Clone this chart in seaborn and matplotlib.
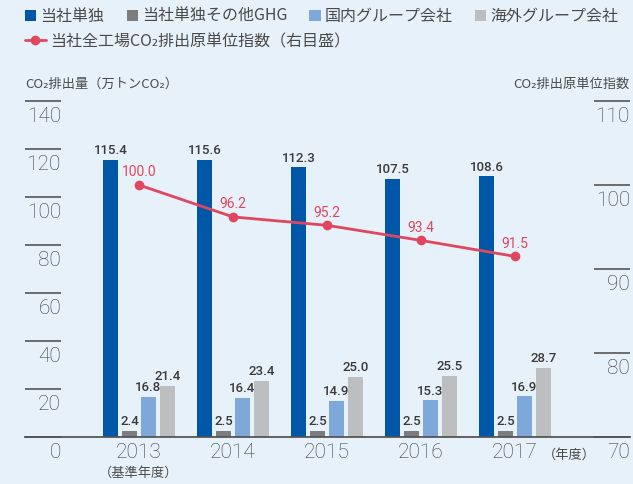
import matplotlib as mpl
mpl.use('Agg')
import matplotlib.pyplot as plt
import pandas as pd
import seaborn as sns

# data
years = ['2013', '2014', '2015', '2016', '2017']
series_names = ['当社単独', '当社単独その他GHG', '国内グループ会社', '海外グループ会社']
tantai = [115.4, 115.6, 112.3, 107.5, 108.6]
tantai_other_ghg = [2.4, 2.5, 2.5, 2.5, 2.5]
domestic_group = [16.8, 16.4, 14.9, 15.3, 16.9]
overseas_group = [21.4, 23.4, 25.0, 25.5, 28.7]
index_values = [100.0, 96.2, 95.2, 93.4, 91.5]
line_name = '当社全工場CO₂排出原単位指数（右目盛）'
left_ticks = [0, 20, 40, 60, 80, 100, 120, 140]
right_ticks = [70, 80, 90, 100, 110]

bar_colors = ['#0057A7', '#7B7C7E', '#7EA8DA', '#BDBEC0']
line_color = '#E0475F'
bg = '#E7F1FA'
txt = '#4a4a4a'
num_color = '#3c3c3c'
num_font = dict(family=['Roboto', 'DejaVu Sans'], weight='light')
val_font = dict(family=['Roboto', 'DejaVu Sans'], weight='medium')


def main():
    sns.set_theme(style='white')
    plt.rcParams['font.family'] = ['Noto Sans CJK JP', 'DejaVu Sans']

    df = pd.DataFrame({
        'year': years * 4,
        'series': [s for s in series_names for _ in years],
        'value': tantai + tantai_other_ghg + domestic_group + overseas_group,
    })

    fig = plt.figure(figsize=(6.33, 4.84), dpi=100, facecolor=bg)
    ax = fig.add_axes([25 / 633, 47 / 484, 605 / 633, 336 / 484], facecolor=bg)

    sns.barplot(data=df, x='year', y='value', hue='series', hue_order=series_names,
                palette=bar_colors, saturation=1, width=0.808, gap=0.208,
                linewidth=0, errorbar=None, ax=ax)
    bar_handles, bar_labels = ax.get_legend_handles_labels()
    ax.get_legend().remove()

    for cont in ax.containers:
        ax.bar_label(cont, fmt='%.1f', padding=2, fontsize=9.5, color='#3a3a3a', **val_font)

    ax2 = ax.twinx()
    sns.lineplot(x=list(range(len(years))), y=index_values, color=line_color, lw=2,
                 marker='o', markersize=7, markeredgewidth=0, label=line_name, ax=ax2)
    line_handles, line_labels = ax2.get_legend_handles_labels()
    ax2.get_legend().remove()
    for i, v in enumerate(index_values):
        ax2.annotate('%.1f' % v, xy=(i, v), xytext=(0, 9), textcoords='offset points',
                     ha='center', va='center', fontsize=10, color=line_color,
                     family=['Roboto', 'DejaVu Sans'])

    ax.set_ylim(0, 140)
    ax2.set_ylim(70, 110)
    ax.set_xlim(-1.213, 5.223)

    for a in (ax, ax2):
        for s in a.spines.values():
            s.set_visible(False)
    ax.spines['bottom'].set_visible(True)
    ax.spines['bottom'].set_color('#555555')
    ax.spines['bottom'].set_linewidth(1.3)

    ax.set_yticks(left_ticks)
    ax2.set_yticks(right_ticks)
    ax.tick_params(axis='y', direction='in', length=26, width=1.2, color='#555555', labelleft=False)
    ax2.tick_params(axis='y', direction='in', length=26, width=1.2, color='#555555', labelright=False)
    ax.set_xlabel('')
    ax.set_ylabel('')
    ax2.set_ylabel('')

    for t in left_ticks:
        ax.annotate(str(t), xy=(36 / 605, t), xycoords=('axes fraction', 'data'),
                    xytext=(0, -11), textcoords='offset points', ha='right', va='center',
                    fontsize=15, color=num_color, **num_font)
    for t in right_ticks:
        ax2.annotate(str(t), xy=(1.0, t), xycoords=('axes fraction', 'data'),
                     xytext=(0, -11), textcoords='offset points', ha='right', va='center',
                     fontsize=15, color=num_color, **num_font)

    ax.set_xticks(range(len(years)))
    ax.set_xticklabels(years, fontsize=15, color=num_color, **num_font)
    ax.tick_params(axis='x', length=0, pad=4)
    ax.annotate('（基準年度）', xy=(0, 0), xycoords=('data', 'axes fraction'),
                xytext=(0, -26), textcoords='offset points', ha='center', va='center',
                fontsize=9.5, color=txt)
    ax.annotate('（年度）', xy=(len(years) - 1, 0), xycoords=('data', 'axes fraction'),
                xytext=(20, -13), textcoords='offset points', ha='left', va='center',
                fontsize=9.5, color=txt)

    fig.text(25 / 633, 1 - 84 / 484, 'CO₂排出量（万トンCO₂）', ha='left', va='center',
             fontsize=9.5, color=txt)
    fig.text(630 / 633, 1 - 84 / 484, 'CO₂排出原単位指数', ha='right', va='center',
             fontsize=9.5, color=txt)

    fig.legend(bar_handles, bar_labels, loc='upper left', bbox_to_anchor=(25 / 633, 1 - 8 / 484),
               ncol=4, frameon=False, fontsize=11.5, handlelength=0.7, handleheight=0.7,
               handletextpad=0.25, columnspacing=1.4, borderpad=0, borderaxespad=0,
               labelcolor='#4a4a4a')
    fig.legend(line_handles, line_labels, loc='upper left', bbox_to_anchor=(25 / 633, 1 - 33 / 484),
               frameon=False, fontsize=11.5, handlelength=1.3, handletextpad=0.3,
               borderpad=0, borderaxespad=0, labelcolor='#4a4a4a')

    fig.savefig('out.png', dpi=100, facecolor=bg)


if __name__ == '__main__':
    main()
